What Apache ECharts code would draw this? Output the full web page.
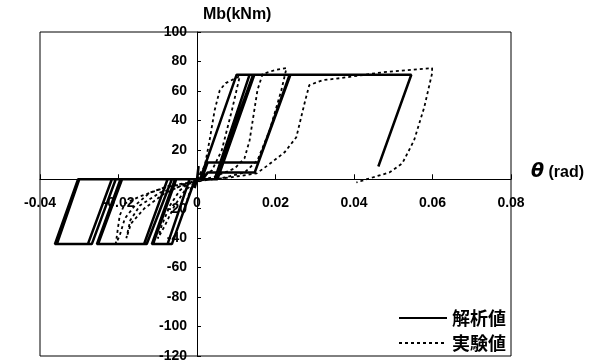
<!DOCTYPE html>
<html><head><meta charset="utf-8">
<script src="https://cdn.jsdelivr.net/npm/echarts@6/dist/echarts.min.js"></script>
<style>html,body{margin:0;padding:0;background:#fff}#c{width:593px;height:364px}</style>
</head><body><div id="c"></div>
<script>
// Axis settings (tick values)
const xMin = -0.04, xMax = 0.08, xStep = 0.02;
const yMin = -120, yMax = 100, yStep = 20;

// 解析値 (analysis) – rotation θ (rad) and moment Mb (kNm)
const analysisTheta = [0,0.0004,0.0001,-0.0006,0,0.0008,0.0101,0.0144,0.0050,-0.0005,-0.0064,-0.0115,-0.0056,0.0045,
  0.0134,0.0146,0.0052,-0.0019,-0.0075,-0.0112,-0.0053,0.0047,
  0.0143,0.0236,0.0156,0.0027,0.0012,-0.0064,-0.0128,-0.0252,-0.0191,0.0048,
  0.0144,0.0238,0.0147,0.0027,0.0015,-0.0075,-0.0135,-0.0255,-0.0195,0.0048,
  0.0144,0.0238,0.0147,0.0027,0.0015,-0.0217,-0.0278,-0.0362,-0.0303,0.0050,
  0.0144,0.0238,0.0147,0.0027,0.0015,-0.0207,-0.0268,-0.0357,-0.0300,0.0050,
  0.0144,0.0546,0.0462];
const analysisM = [0,9,1,-6,0,0,71,71,0,0,-44,-44,0,0,
  71,71,0,0,-44,-44,0,0,
  71,71,11.4,11.4,0,0,-44,-44,0,0,
  71,71,4.6,4.6,0,0,-44,-44,0,0,
  71,71,4.6,4.6,0,0,-44,-44,0,0,
  71,71,4.6,4.6,0,0,-44,-44,0,0,
  71,71,8.7];

// 実験値 (test)
const testTheta = [0,0.0012,0.0004,-0.0015,-0.0025,-0.0012,0,
  0.0020,0.0032,0.0045,0.0058,0.0073,0.0109,
  0.0089,0.0063,0.0038,0.0007,
  -0.0019,-0.0044,-0.0069,-0.0090,-0.0100,
  -0.0082,-0.0057,-0.0031,0,
  0.0045,0.0096,0.0121,0.0134,0.0144,0.0154,0.0167,0.0198,0.0228,
  0.0215,0.0185,0.0154,0.0121,0.0071,0,
  -0.0082,-0.0146,-0.0184,-0.0197,-0.0207,
  -0.0197,-0.0184,-0.0158,-0.0120,-0.0069,0,
  -0.0093,-0.0145,-0.0170,-0.0180,-0.0168,-0.0135,-0.0085,-0.0030,0,
  0.0084,0.0152,0.0180,0.0223,0.0253,0.0274,0.0286,0.0320,0.0363,0.0472,0.0599,
  0.0599,0.0579,0.0553,0.0523,0.0490,0.0447,0.0406];
const testM = [0,6,1,-6,-14,-5,-1,
  9.4,26.4,46.9,60.5,65.3,70,
  46.9,19.6,6,0.5,
  -2.2,-7.6,-17.8,-31.5,-40.3,
  -31.5,-17.8,-7.6,-1.5,
  1.8,7.4,14.2,26.4,43.4,60.5,71.4,74.1,75.5,
  60.5,33.2,12.8,4.6,1.2,-1.5,
  -5.6,-11.7,-16.5,-24.7,-43.8,
  -38.3,-26.7,-17.8,-9,-4.2,-1.5,
  -8.9,-17.7,-27.9,-40,-30,-20,-10,-3,-1,
  1.2,4,9.4,18.3,28.5,51.6,63.9,67.3,68.6,72.6,75.5,
  72,48.9,26.4,10.8,4.6,1.2,-2.2];

const seriesNames = ['解析値', '実験値'];
const zip = (a, b) => a.map((v, i) => [v, b[i]]);

// layout
const G = {left: 40, right: 82, top: 32, bottom: 8, W: 593, H: 364};
const plotW = G.W - G.left - G.right, plotH = G.H - G.top - G.bottom;
// shift the axes so they cross at the origin (labels follow the axis lines)
const yAxisOffset = -plotW * (0 - xMin) / (xMax - xMin);
const xAxisOffset = -plotH * (0 - yMin) / (yMax - yMin);

const chart = echarts.init(document.getElementById('c'), null, {renderer: 'canvas'});
const lblFont = {color: '#000', fontSize: 14, fontWeight: 'bold', fontFamily: 'Liberation Sans, Arial, sans-serif'};
chart.setOption({
  animation: false,
  backgroundColor: '#fff',
  grid: {left: G.left, right: G.right, top: G.top, bottom: G.bottom, show: true, borderColor: '#000', borderWidth: 1,
         containLabel: false, outerBoundsMode: 'none'},
  xAxis: {
    type: 'value', min: xMin, max: xMax, interval: xStep, position: 'bottom', offset: xAxisOffset,
    axisLine: {onZero: false, lineStyle: {color: '#000', width: 1}},
    axisTick: {inside: true, length: 5, lineStyle: {color: '#000'}},
    splitLine: {show: false},
    axisLabel: Object.assign({margin: 17, showMinLabel: true, showMaxLabel: true,
      formatter: v => Math.abs(v) < 1e-9 ? '0' : v.toFixed(2)}, lblFont)
  },
  yAxis: {
    type: 'value', min: yMin, max: yMax, interval: yStep, position: 'left', offset: yAxisOffset,
    axisLine: {onZero: false, lineStyle: {color: '#000', width: 1}},
    axisTick: {inside: true, length: 4, lineStyle: {color: '#000'}},
    splitLine: {show: false},
    axisLabel: Object.assign({margin: 10, showMinLabel: true, showMaxLabel: true,
      formatter: v => v === 0 ? '' : String(v)}, lblFont)
  },
  legend: {
    orient: 'vertical', right: 82, top: 304, itemWidth: 48, itemHeight: 14, itemGap: 7,
    itemStyle: {opacity: 0},
    textStyle: {color: '#000', fontSize: 18, fontWeight: 'bold', fontFamily: 'Noto Sans CJK JP'},
    data: seriesNames
  },
  graphic: [
    {type: 'text', left: 203, top: 7, style: {text: 'Mb(kNm)', fill: '#000', font: 'bold 16px "Liberation Sans", Arial, sans-serif'}},
    {type: 'text', left: 531, top: 163, style: {
      text: '{t|θ}{r| (rad)}',
      rich: {
        t: {fontSize: 19, fontStyle: 'italic', fontWeight: 'bold', fontFamily: 'DejaVu Sans', fill: '#000'},
        r: {fontSize: 16, fontWeight: 'bold', fontFamily: 'Liberation Sans', fill: '#000'}
      }}}
  ],
  series: [
    {name: seriesNames[0], type: 'line', data: zip(analysisTheta, analysisM), symbol: 'none',
     lineStyle: {color: '#000', width: 2.5}, itemStyle: {color: '#000'}, z: 3},
    {name: seriesNames[1], type: 'line', data: zip(testTheta, testM), symbol: 'none',
     lineStyle: {color: '#000', width: 1.8, type: [3, 3]}, itemStyle: {color: '#000'}, z: 2}
  ]
});
</script>
</body></html>
